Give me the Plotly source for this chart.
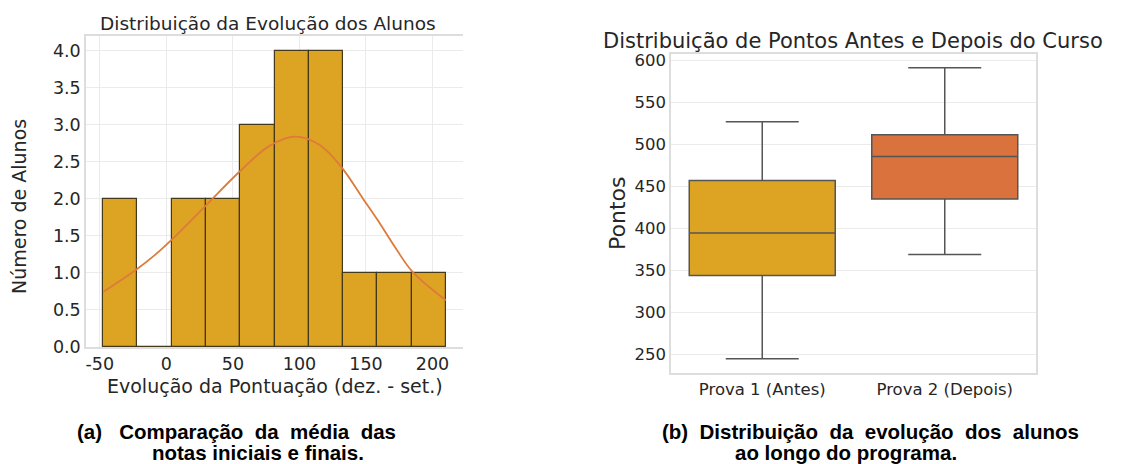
import plotly.graph_objects as go

# ---------------- data ----------------
bin_edges = [-47.5, -21.75, 4.0, 29.75, 55.5, 81.25, 107.0, 132.75, 158.5, 184.25, 210.0]
bin_counts = [2, 0, 2, 2, 3, 4, 4, 1, 1, 1]

kde_x = [-47.5, -22.5, -8.75, 4.25, 30, 56.25, 77.5, 97, 115, 131.25, 147.5, 158.75, 172.5, 185, 210]
kde_y = [0.744, 1.047, 1.24, 1.453, 1.917, 2.39, 2.716, 2.84, 2.73, 2.436, 2.01, 1.715, 1.33, 1.015, 0.632]

hist_xticks = [-50, 0, 50, 100, 150, 200]
hist_xticktext = ["-50", "0", "50", "100", "150", "200"]

box_categories = ["Prova 1 (Antes)", "Prova 2 (Depois)"]
box_lower = [245, 369]
box_q1 = [344, 435]
box_median = [394.5, 485.5]
box_q3 = [457, 511.5]
box_upper = [527, 591]

title_left = "Distribuição da Evolução dos Alunos"
title_right = "Distribuição de Pontos Antes e Depois do Curso"
xlabel_left = "Evolução da Pontuação (dez. - set.)"
ylabel_left = "Número de Alunos"
ylabel_right = "Pontos"
caption_a = ["(a)\u00a0\u00a0\u00a0Comparação\u00a0\u00a0da\u00a0\u00a0média\u00a0\u00a0das", "notas iniciais e finais."]
caption_b = ["(b)\u00a0\u00a0Distribuição\u00a0\u00a0da\u00a0\u00a0evolução\u00a0\u00a0dos\u00a0\u00a0alunos", "ao longo do programa."]

# ---------------- styles ----------------
W, H = 1146, 464
GOLD = "#DDA423"
ORANGE = "#D9723C"
KDE_COLOR = "#DE7A3A"
TXT = "#262626"
GRID = "#EBEBEB"
FRAME = "#DDDDDD"
FONT = "DejaVu Sans"

def px(x):
    return x / W

def py(y):
    return (H - y) / H

centers = [(bin_edges[i] + bin_edges[i + 1]) / 2 for i in range(len(bin_counts))]
widths = [bin_edges[i + 1] - bin_edges[i] for i in range(len(bin_counts))]

fig = go.Figure()

fig.add_trace(go.Bar(
    x=centers, y=bin_counts, width=widths,
    marker=dict(color=GOLD, line=dict(color="#45391c", width=1.2)),
    xaxis="x", yaxis="y", showlegend=False,
))
fig.add_trace(go.Scatter(
    x=kde_x, y=kde_y, mode="lines", line=dict(color=KDE_COLOR, width=1.8, shape="spline", smoothing=1.0),
    xaxis="x", yaxis="y", showlegend=False,
))

for i, (cat, col) in enumerate(zip(box_categories, [GOLD, ORANGE])):
    fig.add_trace(go.Box(
        x=[cat], q1=[box_q1[i]], median=[box_median[i]], q3=[box_q3[i]],
        lowerfence=[box_lower[i]], upperfence=[box_upper[i]],
        fillcolor=col, line=dict(color="#555555", width=1.5),
        width=0.8, whiskerwidth=0.5, boxpoints=False,
        xaxis="x2", yaxis="y2", showlegend=False,
    ))

fig.update_layout(
    template="none",
    width=W, height=H, autosize=False,
    margin=dict(l=0, r=0, t=0, b=0, pad=0),
    paper_bgcolor="white", plot_bgcolor="white",
    bargap=0, boxmode="overlay",
    font=dict(family=FONT, color=TXT),
    xaxis=dict(
        domain=[px(86), px(463)], range=[-60.4, 222.9], automargin=False,
        tickvals=hist_xticks, ticktext=hist_xticktext,
        tickfont=dict(size=17.5, family=FONT, color=TXT),
        showgrid=True, gridcolor=GRID, gridwidth=1,
        showline=True, linecolor=FRAME, linewidth=1.5, mirror=True,
        zeroline=False, ticks="", anchor="y",
    ),
    yaxis=dict(
        domain=[py(347), py(36)], range=[0, 4.2], automargin=False,
        tickvals=[0, 0.5, 1, 1.5, 2, 2.5, 3, 3.5, 4], tickformat=".1f",
        tickfont=dict(size=17.5, family=FONT, color=TXT),
        showgrid=True, gridcolor=GRID, gridwidth=1,
        showline=True, linecolor=FRAME, linewidth=1.5,
        zeroline=False, ticks="", anchor="x",
    ),
    xaxis2=dict(
        domain=[px(671), px(1036)], range=[-0.5, 1.5], type="category", automargin=False,
        categoryorder="array", categoryarray=box_categories,
        tickfont=dict(size=16.5, family=FONT, color=TXT),
        showgrid=False, showline=True, linecolor=FRAME, linewidth=1.5, mirror=True,
        zeroline=False, ticks="", anchor="y2",
    ),
    yaxis2=dict(
        domain=[py(373), py(54)], range=[228, 607.5], automargin=False,
        tickvals=[250, 300, 350, 400, 450, 500, 550, 600],
        tickfont=dict(size=16.5, family=FONT, color=TXT),
        showgrid=True, gridcolor=GRID, gridwidth=1,
        showline=True, linecolor=FRAME, linewidth=1.5, mirror=True,
        zeroline=False, ticks="", anchor="x2",
    ),
)

ann = []
def add(text, x, y, size, family=FONT, angle=0, bold=False, pad=1):
    ann.append(dict(
        text=f"<b>{text}</b>" if bold else text,
        x=px(x), y=py(y), xref="paper", yref="paper",
        xanchor="center", yanchor="middle", showarrow=False, textangle=angle,
        borderpad=pad,
        font=dict(size=size, family=family, color="black" if bold else TXT),
    ))

add(title_left, 267.5, 24, 18.5)
add(title_right, 853, 41, 21)
add(xlabel_left, 275, 386, 19)
add(ylabel_left, 19, 207, 19, angle=-90)
add(ylabel_right, 618, 214, 22, angle=-90)
add(caption_a[0], 236, 431, 20.5, family="Liberation Sans", bold=True)
add(caption_a[1], 257.5, 452.5, 20.5, family="Liberation Sans", bold=True, pad=0)
add(caption_b[0], 870, 431, 20.5, family="Liberation Sans", bold=True)
add(caption_b[1], 846, 452.5, 20.5, family="Liberation Sans", bold=True, pad=0)
fig.update_layout(annotations=ann)

fig.write_html(
    "out.html",
    config={"displayModeBar": False},
    post_script="document.body.style.margin='0';document.body.style.padding='0';document.body.style.overflow='hidden';",
)
